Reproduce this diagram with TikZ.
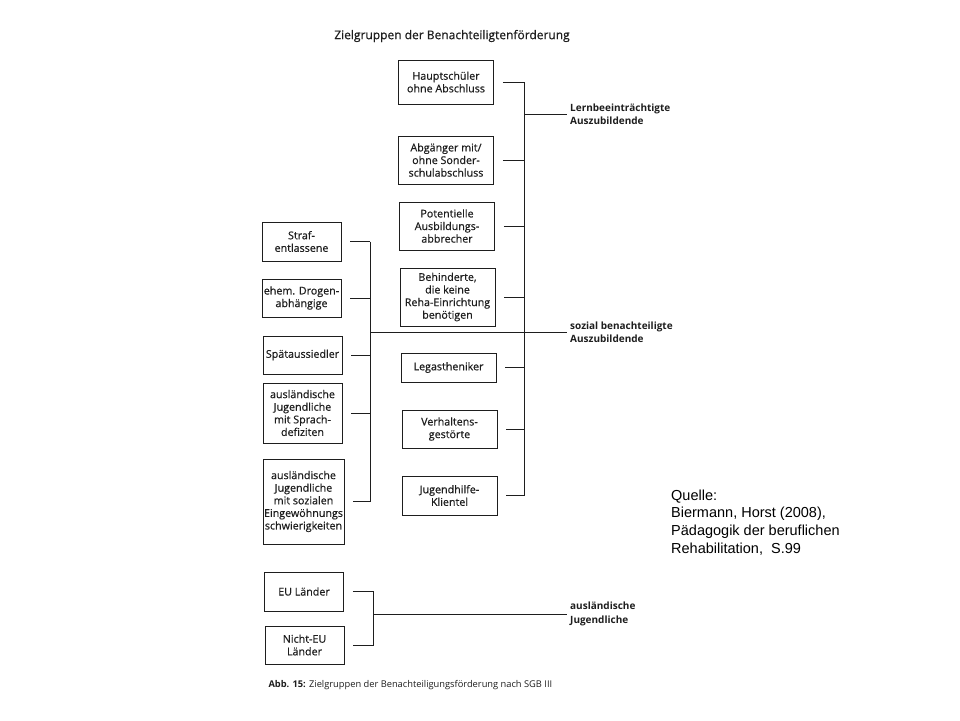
\documentclass[tikz,border=0pt]{standalone}
\usepackage{fontspec}
\setmainfont{Open Sans}
\newfontfamily\boxfont{Open Sans}[FakeBold=0.6]
\newfontfamily\quellefont{Liberation Sans}
\usepackage{xcolor}
\usetikzlibrary{positioning}
\definecolor{ink}{HTML}{1E1E1E}
\tikzset {
  % boxes of the target groups
  grp/.style = {draw=ink, line width=0.9pt, align=center, inner sep=1pt, text=ink,
    font=\boxfont\fontsize{10.7}{12.6}\selectfont},
  midbox/.style = {grp, minimum width=95pt},
  sidebox/.style = {grp, minimum width=79pt},
  % bracket lines between boxes and group names
  link/.style = {ink, line width=0.8pt},
  % bold group names on the right
  groupname/.style = {anchor=west, align=left, inner sep=3pt, text=ink,
    font=\bfseries\fontsize{10}{13.5}\selectfont},
  headline/.style = {text=ink, font=\boxfont\fontsize{12}{14}\selectfont},
  caption/.style = {anchor=west, text=ink, font=\fontsize{9.3}{11}\selectfont},
  source/.style = {anchor=north west, align=left, inner sep=0pt,
    font=\quellefont\fontsize{14.5}{17.6}\selectfont},
}

\begin{document}
\begin{tikzpicture}[x=1pt, y=-1pt]
  \fill[white] (0,0) rectangle (960,720);
  \useasboundingbox (0,0) rectangle (960,720);

  \node[headline] (title) at (452,36) {Zielgruppen der Benachteiligtenförderung};

  % middle column
  \node[midbox, minimum height=44pt] (haupt) at (446,82) {Hauptschüler\\ohne Abschluss};
  \node[midbox, minimum height=48pt] (abg) at (446,160) {Abgänger mit/\\ohne Sonder-\\schulabschluss};
  \node[midbox, minimum height=48pt] (pot) at (447,226) {Potentielle\\Ausbildungs-\\abbrecher};
  \node[midbox, minimum height=58pt] (beh) at (447.5,297) {Behinderte,\\die keine\\Reha-Einrichtung\\benötigen};
  \node[midbox, minimum height=29pt] (leg) at (448.5,367.5) {Legastheniker};
  \node[midbox, minimum height=38pt] (verh) at (449.5,429) {Verhaltens-\\gestörte};
  \node[midbox, minimum height=39pt] (jug) at (449.5,495.5) {Jugendhilfe-\\Klientel};

  % left column
  \node[sidebox, minimum height=39pt] (straf) at (301.5,241.5) {Straf-\\entlassene};
  \node[sidebox, minimum height=38pt] (drog) at (301.5,298) {ehem. Drogen-\\abhängige};
  \node[sidebox, minimum height=38pt] (spaet) at (302.5,355) {Spätaussiedler};
  \node[sidebox, minimum height=60pt] (sprach) at (302.5,413) {ausländische\\Jugendliche\\mit Sprach-\\defiziten};
  \node[sidebox, minimum height=85pt] (schwier) at (303.5,501.5) {ausländische\\Jugendliche\\mit sozialen\\Eingewöhnungs\\schwierigkeiten};
  \node[sidebox, minimum height=39pt] (eu) at (304,591.5) {EU Länder};
  \node[sidebox, minimum height=38pt] (neu) at (304.5,645) {Nicht-EU\\Länder};

  % group names
  \node[groupname] (lern) at (567,114) {Lernbeeinträchtigte\\Auszubildende};
  \node[groupname] (soz) at (567,332) {sozial benachteiligte\\Auszubildende};
  \node[groupname] (ausl) at (567,614) {ausländische\\Jugendliche};

  \coordinate (rbus) at (524,0);
  \coordinate (lbus) at (370,0);
  \coordinate (abus) at (373,0);

  % right bracket
  \draw[link] ([xshift=9pt]haupt.east) -- (haupt.east -| rbus);
  \draw[link] ([xshift=9pt]abg.east) -- (abg.east -| rbus);
  \draw[link] ([xshift=9pt]pot.east) -- (pot.east -| rbus);
  \draw[link] ([xshift=9pt]beh.east) -- (beh.east -| rbus);
  \draw[link] ([xshift=9pt]leg.east) -- (leg.east -| rbus);
  \draw[link] ([xshift=9pt]verh.east) -- (verh.east -| rbus);
  \draw[link] ([xshift=9pt]jug.east) -- (jug.east -| rbus);
  \draw[link] (haupt.east -| rbus) -- (jug.east -| rbus);
  \draw[link] (lern.west -| rbus) -- (lern.west);

  % left bracket
  \draw[link] ([xshift=9pt]straf.east) -- (straf.east -| lbus);
  \draw[link] ([xshift=9pt]drog.east) -- (drog.east -| lbus);
  \draw[link] ([xshift=9pt]spaet.east) -- (spaet.east -| lbus);
  \draw[link] ([xshift=9pt]sprach.east) -- (sprach.east -| lbus);
  \draw[link] ([xshift=9pt]schwier.east) -- (schwier.east -| lbus);
  \draw[link] (straf.east -| lbus) -- (schwier.east -| lbus);
  \draw[link] (soz.west -| lbus) -- (soz.west);

  % bottom bracket
  \draw[link] ([xshift=9pt]eu.east) -- (eu.east -| abus) -- (neu.east -| abus) -- ([xshift=9pt]neu.east);
  \draw[link] (ausl.west -| abus) -- (ausl.west);

  \node[caption] (abb) at (265,685) {\textbf{Abb. 15:} Zielgruppen der Benachteiligungsförderung nach SGB III};

  \node[source] (quelle) at (671,489.5) {Quelle:\\Biermann, Horst (2008),\\Pädagogik der beruflichen\\Rehabilitation,~ S.99};
\end{tikzpicture}
\end{document}
